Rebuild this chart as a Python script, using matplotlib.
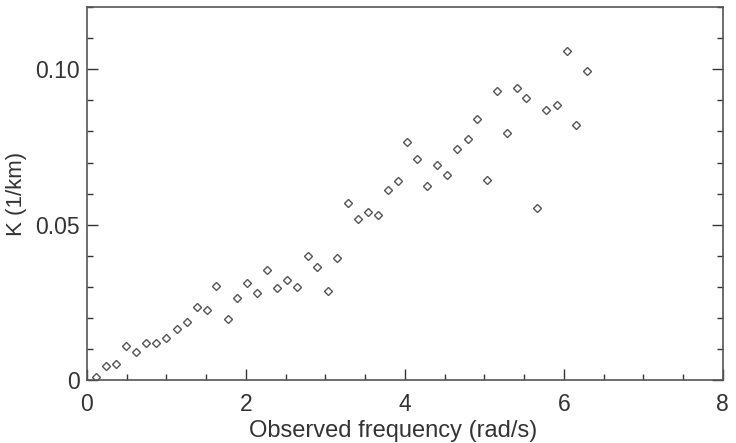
import numpy as np
import matplotlib.pyplot as plt
from matplotlib.ticker import MultipleLocator, FixedLocator, FixedFormatter

plt.rcParams['font.family'] = ['Liberation Sans', 'DejaVu Sans']

# observed frequency (rad/s) and attenuation K (1/km)
freq = [0.11, 0.24, 0.37, 0.49, 0.62, 0.75, 0.87, 1.00, 1.13, 1.26,
        1.38, 1.51, 1.63, 1.77, 1.89, 2.02, 2.14, 2.27, 2.39, 2.52,
        2.65, 2.78, 2.90, 3.03, 3.15, 3.29, 3.41, 3.54, 3.66, 3.79,
        3.91, 4.03, 4.15, 4.28, 4.41, 4.53, 4.66, 4.79, 4.91, 5.04,
        5.16, 5.28, 5.41, 5.53, 5.66, 5.78, 5.91, 6.04, 6.16, 6.29]
K = [0.0009, 0.0045, 0.0051, 0.0109, 0.0090, 0.0120, 0.0119, 0.0134, 0.0164, 0.0186,
     0.0236, 0.0227, 0.0303, 0.0198, 0.0263, 0.0313, 0.0279, 0.0354, 0.0297, 0.0322,
     0.0299, 0.0398, 0.0364, 0.0286, 0.0393, 0.0570, 0.0517, 0.0541, 0.0531, 0.0611,
     0.0640, 0.0766, 0.0710, 0.0625, 0.0692, 0.0661, 0.0742, 0.0775, 0.0841, 0.0643,
     0.0930, 0.0796, 0.0940, 0.0906, 0.0554, 0.0868, 0.0886, 0.1059, 0.0821, 0.0993]

ink = '#333333'

fig = plt.figure(figsize=(7.36, 4.43), dpi=100)
ax = fig.add_axes([0.118, 0.142, 0.864, 0.842])

ax.plot(freq, K, linestyle='none', marker='D', markersize=4.0,
        markerfacecolor='none', markeredgecolor='#555555', markeredgewidth=1.0)

ax.set_xlim(0, 8)
ax.set_ylim(0, 0.12)

ax.xaxis.set_major_locator(MultipleLocator(2))
ax.xaxis.set_minor_locator(MultipleLocator(0.5))
ax.yaxis.set_major_locator(FixedLocator([0, 0.05, 0.10]))
ax.yaxis.set_major_formatter(FixedFormatter(['0', '0.05', '0.10']))
ax.yaxis.set_minor_locator(MultipleLocator(0.01))

ax.tick_params(which='both', direction='in', colors=ink, labelsize=16.5,
               top=False, right=True, width=1.0)
ax.tick_params(which='major', length=8)
ax.tick_params(which='minor', length=4)
ax.tick_params(axis='x', which='major', pad=9)
ax.tick_params(axis='y', which='major', pad=5)

for s in ax.spines.values():
    s.set_color('#555555')
    s.set_linewidth(1.2)

ax.set_xlabel('Observed frequency (rad/s)', fontsize=17, color=ink)
ax.set_ylabel('K (1/km)', fontsize=16, color=ink)
ax.xaxis.set_label_coords(0.481, -0.108)
ax.yaxis.set_label_coords(-0.094, 0.5)

fig.savefig('out.png', dpi=100)
